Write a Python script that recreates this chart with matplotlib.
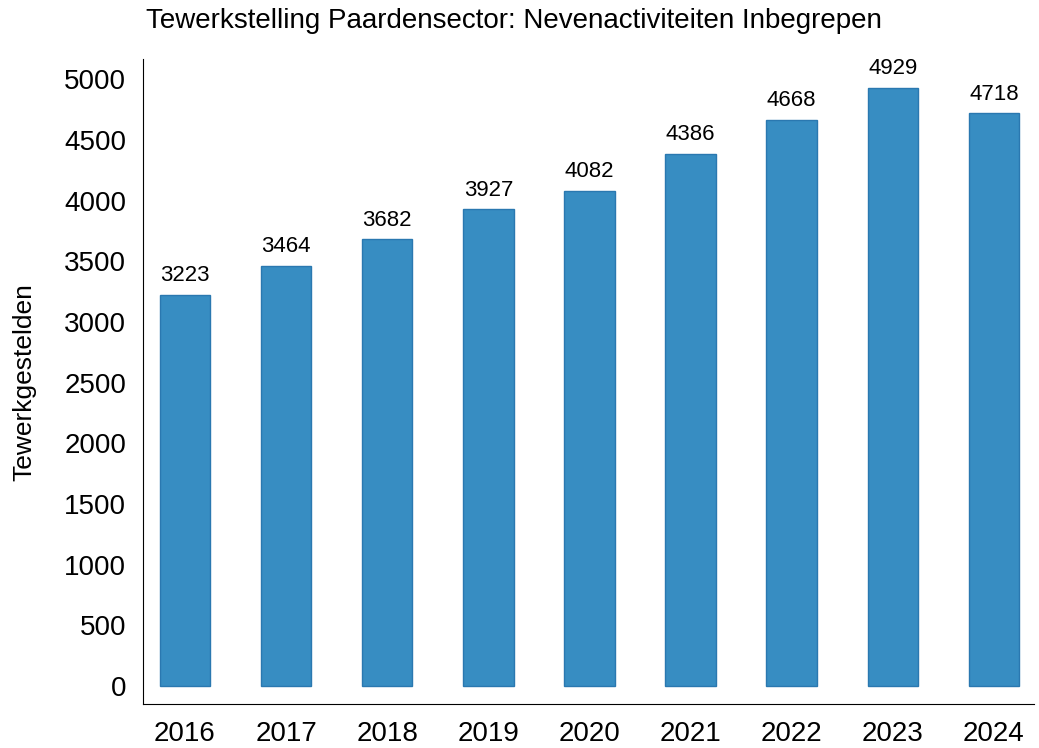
import matplotlib
matplotlib.use('Agg')
import matplotlib.pyplot as plt
import numpy as np

plt.rcParams['font.family'] = ['Liberation Sans', 'DejaVu Sans']

years = ['2016', '2017', '2018', '2019', '2020', '2021', '2022', '2023', '2024']
employed = [3223, 3464, 3682, 3927, 4082, 4386, 4668, 4929, 4718]

fig = plt.figure(figsize=(10.39, 7.48), dpi=100)
ax = fig.add_axes([0.1376, 0.0588, 0.858, 0.862])

x = np.arange(len(years))
bars = ax.bar(x, employed, width=0.5, color='#378dc2', edgecolor='#2a78b0', linewidth=1)
for xi, v in zip(x, employed):
    ax.text(xi, v + 70, str(v), ha='center', va='bottom', fontsize=16)

ax.set_xticks(x)
ax.set_xticklabels(years)
ax.set_yticks(range(0, 5001, 500))
ax.tick_params(axis='both', length=0, labelsize=20, pad=12)
ax.set_xlim(-0.415, 8.4)
ax.set_ylim(-150, 5165)
ax.set_ylabel('Tewerkgestelden', fontsize=19, labelpad=20)
ax.spines['top'].set_visible(False)
ax.spines['right'].set_visible(False)

fig.text(0.495, 0.972, 'Tewerkstelling Paardensector: Nevenactiviteiten Inbegrepen',
         ha='center', va='center', fontsize=20)

fig.savefig('out.png', dpi=100)
